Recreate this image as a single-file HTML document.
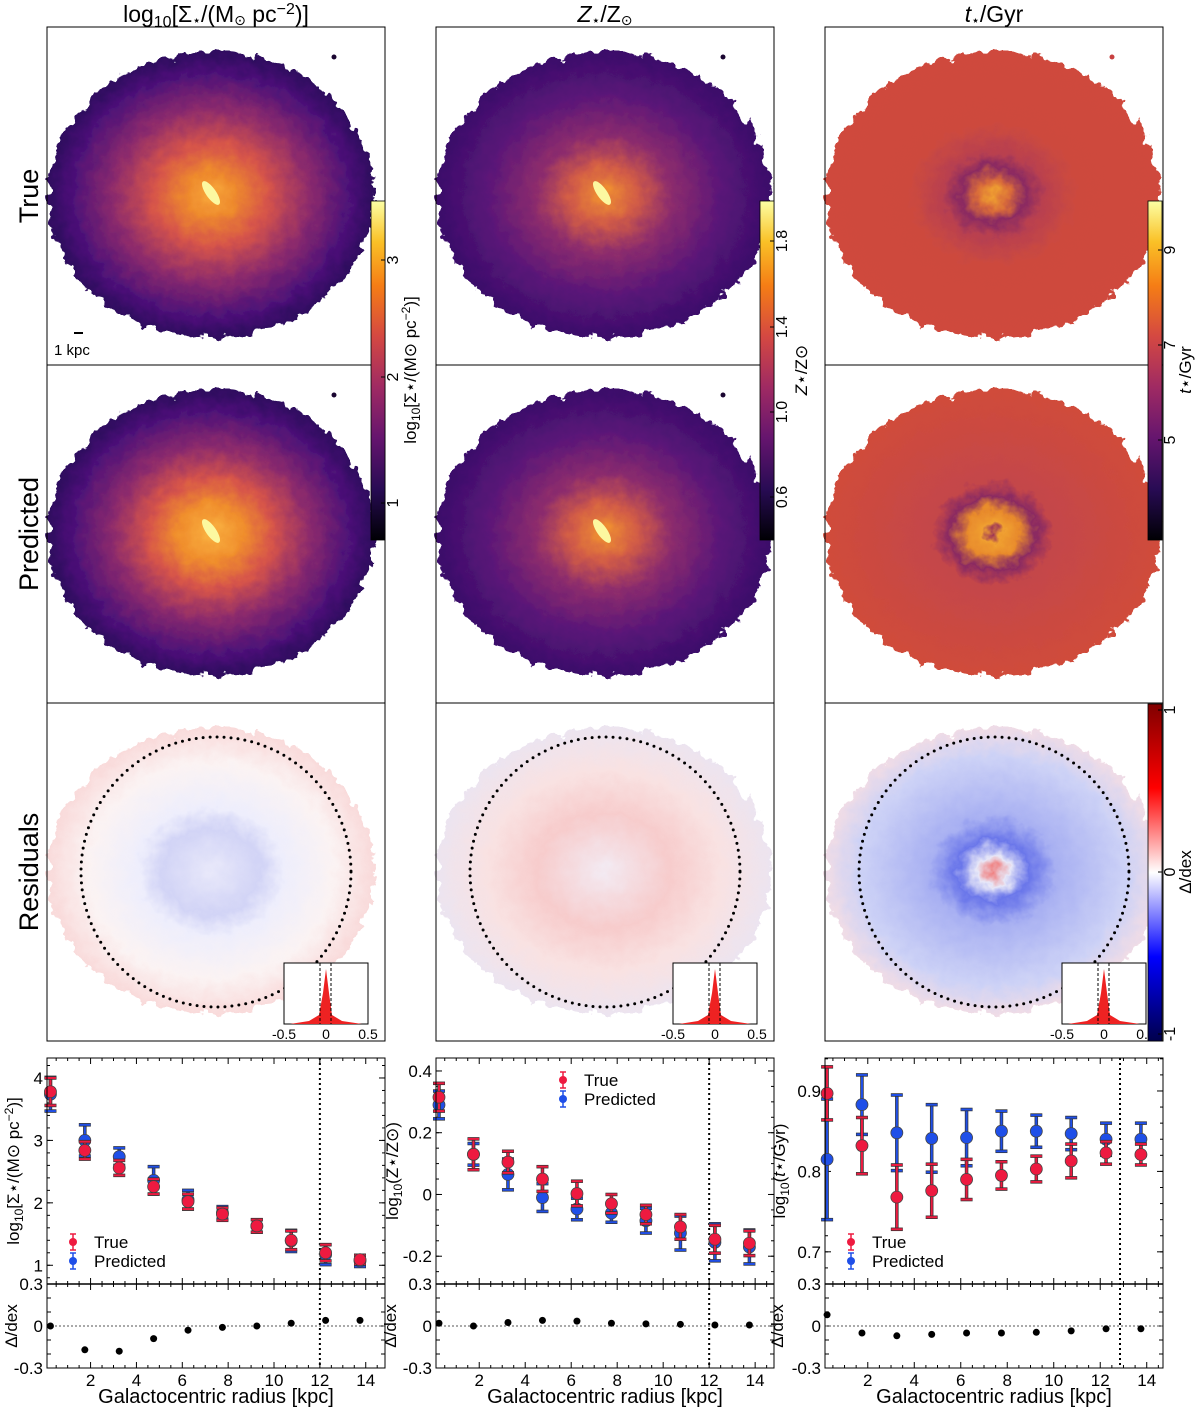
<!DOCTYPE html>
<html><head><meta charset="utf-8"><style>
html,body{margin:0;padding:0;background:#fff;}
svg{display:block;font-family:"Liberation Sans","DejaVu Sans",sans-serif;}
</style></head><body>
<svg id="fig" width="1200" height="1407" viewBox="0 0 1200 1407" xmlns="http://www.w3.org/2000/svg">
<defs>
<filter id="rough" x="-10%" y="-10%" width="120%" height="120%">
<feTurbulence type="fractalNoise" baseFrequency="0.09" numOctaves="3" seed="3" result="n"/>
<feDisplacementMap in="SourceGraphic" in2="n" scale="16" xChannelSelector="R" yChannelSelector="G"/>
</filter>
<radialGradient id="gS" cx="50%" cy="50%" r="50%">
<stop offset="0" stop-color="#f7a53a"/><stop offset="0.15" stop-color="#ee8a2c"/><stop offset="0.35" stop-color="#d6544a"/><stop offset="0.6" stop-color="#8d2b6c"/><stop offset="0.85" stop-color="#4c1178"/><stop offset="1" stop-color="#2d0b5e"/></radialGradient>
<radialGradient id="gSp" cx="50%" cy="50%" r="50%">
<stop offset="0" stop-color="#f9b040"/><stop offset="0.2" stop-color="#f08e2c"/><stop offset="0.38" stop-color="#d6544a"/><stop offset="0.6" stop-color="#8d2b6c"/><stop offset="0.85" stop-color="#4c1178"/><stop offset="1" stop-color="#2d0b5e"/></radialGradient>
<radialGradient id="gZ" cx="50%" cy="50%" r="50%">
<stop offset="0" stop-color="#f09030"/><stop offset="0.2" stop-color="#d25c46"/><stop offset="0.4" stop-color="#8e2d6c"/><stop offset="0.7" stop-color="#5a1678"/><stop offset="1" stop-color="#3a0d6a"/></radialGradient>
<radialGradient id="gT" cx="50%" cy="50%" r="50%">
<stop offset="0" stop-color="#f0a030"/><stop offset="0.1" stop-color="#d86a3a"/><stop offset="0.2" stop-color="#8a2a62"/><stop offset="0.3" stop-color="#b84050"/><stop offset="0.5" stop-color="#cd4a3e"/><stop offset="1" stop-color="#cf4a3c"/></radialGradient>
<radialGradient id="gTp" cx="50%" cy="50%" r="50%">
<stop offset="0" stop-color="#9a3058"/><stop offset="0.06" stop-color="#f0a030"/><stop offset="0.16" stop-color="#e88a2c"/><stop offset="0.26" stop-color="#8a2a62"/><stop offset="0.36" stop-color="#c4464a"/><stop offset="1" stop-color="#d04c3a"/></radialGradient>
<radialGradient id="gR1" cx="50%" cy="50%" r="50%">
<stop offset="0" stop-color="#e8e8fa"/><stop offset="0.3" stop-color="#d2d4f6"/><stop offset="0.45" stop-color="#eeeefc"/><stop offset="0.75" stop-color="#fbf3f3"/><stop offset="1" stop-color="#f9dada"/></radialGradient>
<radialGradient id="gR2" cx="50%" cy="50%" r="50%">
<stop offset="0" stop-color="#f3eaf2"/><stop offset="0.4" stop-color="#f7cccc"/><stop offset="0.7" stop-color="#f9e2e2"/><stop offset="1" stop-color="#ece4f0"/></radialGradient>
<radialGradient id="gR3" cx="50%" cy="50%" r="50%">
<stop offset="0" stop-color="#f08080"/><stop offset="0.1" stop-color="#e8e8f8"/><stop offset="0.22" stop-color="#6a76ea"/><stop offset="0.38" stop-color="#a8b0f2"/><stop offset="0.8" stop-color="#cdd2f6"/><stop offset="1" stop-color="#f0dce6"/></radialGradient>
<linearGradient id="cbInf" x1="0" y1="1" x2="0" y2="0">
<stop offset="0" stop-color="#000004"/><stop offset="0.15" stop-color="#280b54"/><stop offset="0.3" stop-color="#65156e"/><stop offset="0.45" stop-color="#9f2a63"/><stop offset="0.6" stop-color="#d44842"/><stop offset="0.75" stop-color="#f57d15"/><stop offset="0.88" stop-color="#fac127"/><stop offset="1" stop-color="#fcffa4"/></linearGradient>
<linearGradient id="cbSeis" x1="0" y1="1" x2="0" y2="0">
<stop offset="0" stop-color="#00004c"/><stop offset="0.25" stop-color="#0000ff"/><stop offset="0.5" stop-color="#ffffff"/><stop offset="0.75" stop-color="#ff0000"/><stop offset="1" stop-color="#800000"/></linearGradient>
</defs>
<g id="maps"></g>
<g id="charts"></g>
</svg>
<script>
// ---------- profile data ----------
const radii = [0.25,1.75,3.25,4.75,6.25,7.75,9.25,10.75,12.25,13.75];
const sigmaTrue = [3.78,2.84,2.56,2.26,2.02,1.82,1.63,1.40,1.20,1.09];
const sigmaTrueErr = [0.22,0.14,0.12,0.12,0.12,0.10,0.10,0.15,0.13,0.07];
const sigmaPred = [3.74,3.00,2.74,2.36,2.05,1.84,1.63,1.39,1.17,1.07];
const sigmaPredErr = [0.27,0.25,0.14,0.22,0.15,0.10,0.10,0.17,0.16,0.09];
const sigmaResid = [0.0,-0.17,-0.18,-0.09,-0.03,-0.01,0.0,0.02,0.04,0.04];
const zTrue = [0.315,0.13,0.105,0.05,0.003,-0.03,-0.065,-0.105,-0.145,-0.158];
const zTrueErr = [0.045,0.05,0.035,0.04,0.04,0.03,0.03,0.04,0.045,0.04];
const zPred = [0.29,0.13,0.065,-0.01,-0.047,-0.06,-0.085,-0.125,-0.155,-0.17];
const zPredErr = [0.045,0.035,0.05,0.045,0.035,0.03,0.04,0.055,0.06,0.055];
const zResid = [0.02,0.0,0.025,0.04,0.035,0.02,0.015,0.012,0.007,0.007];
const tTrue = [0.897,0.832,0.768,0.776,0.790,0.795,0.803,0.813,0.823,0.821];
const tTrueErr = [0.033,0.035,0.04,0.033,0.025,0.017,0.016,0.021,0.014,0.013];
const tPred = [0.815,0.883,0.848,0.841,0.842,0.850,0.850,0.847,0.840,0.840];
const tPredErr = [0.075,0.037,0.047,0.042,0.035,0.025,0.02,0.02,0.02,0.02];
const tResid = [0.08,-0.05,-0.07,-0.06,-0.05,-0.05,-0.045,-0.035,-0.02,-0.02];
const xTicks = [2,4,6,8,10,12,14];
const sigmaTicks = [1,2,3,4];
const zTicks = [-0.2,0,0.2,0.4];
const tTicks = [0.7,0.8,0.9];
const residTickLabels = ["0.3","0","-0.3"];

const NS="http://www.w3.org/2000/svg";
function E(tag,attrs,parent,text){const e=document.createElementNS(NS,tag);for(const k in attrs)e.setAttribute(k,attrs[k]);if(text!==undefined)e.textContent=text;(parent||document.getElementById('fig')).appendChild(e);return e;}

// ---------- maps ----------
const maps=document.getElementById('maps');
const colX=[47,436,825], rowY=[27,365,703], P=338;
const fills=[["gS","gSp","gR1"],["gZ","gZ","gR2"],["gT","gTp","gR3"]];
for(let c=0;c<3;c++){
  for(let r=0;r<3;r++){
    const g=E('g',{transform:`translate(${colX[c]},${rowY[r]})`},maps);
    
    
    E('rect',{x:0,y:0,width:P,height:P,fill:'#fff'},g);
    const cx=c==0?164:168, cy=168, rx=c==0?163:167, ry=143;
    const gal=E('ellipse',{cx,cy,rx,ry,fill:`url(#${fills[c][r]})`,filter:'url(#rough)'},g);
    
    
    if(r<2&&c<2){
      const bar=E('ellipse',{cx:cx-c*2,cy:cy-2,rx:14,ry:5,fill:'#fcf8a0',transform:`rotate(55 ${cx-c*2} ${cy-2})`},g);
      
      
      E('circle',{cx:287,cy:30,r:2.5,fill:'#1a0530'},g);
    }
    if(r==0&&c==2){E('circle',{cx:287,cy:30,r:2.5,fill:'#c84040'},g);}
    if(r==2){
      const circ=E('ellipse',{cx:169,cy:169,rx:135,ry:135,fill:'none',stroke:'#000','stroke-width':3,'stroke-dasharray':'0 7','stroke-linecap':'round'},g);
      
      
      const ins=E('g',{transform:`translate(237,260)`},g);
      
      
      E('rect',{x:0,y:0,width:84,height:61,fill:'#fff',stroke:'#000','stroke-width':1},ins);
      E('path',{d:'M6,61 L25,58 L35,52 L39,30 L42,6 L45,30 L48,52 L58,58 L78,61 Z',fill:'#ee2222'},ins);
      E('line',{x1:36,y1:0,x2:36,y2:61,stroke:'#000','stroke-dasharray':'3 2'},ins);
      E('line',{x1:47,y1:0,x2:47,y2:61,stroke:'#000','stroke-dasharray':'3 2'},ins);
      [["-0.5",0],["0",42],["0.5",84]].forEach(([t,x])=>E('text',{x:x,y:76,'font-size':14,'text-anchor':'middle'},ins,t));
    }
    E('rect',{x:0,y:0,width:P,height:P,fill:'none',stroke:'#000','stroke-width':1},g);
  }
  const tt=E('text',{x:colX[c]+169,y:22,'font-size':23,'text-anchor':'middle'},maps);
  
  
  if(c==0){
    tt.innerHTML='log<tspan dy="5" font-size="16">10</tspan><tspan dy="-5">[Σ</tspan><tspan font-size="14" dy="3">⋆</tspan><tspan dy="-3">/(M</tspan><tspan font-size="14" dy="3">⊙</tspan><tspan dy="-3"> pc</tspan><tspan dy="-8" font-size="16">−2</tspan><tspan dy="8">)]</tspan>';
  } else if(c==1){
    tt.innerHTML='<tspan font-style="italic">Z</tspan><tspan font-size="14" dy="3">⋆</tspan><tspan dy="-3">/Z</tspan><tspan font-size="14" dy="3">⊙</tspan>';
  } else {
    tt.innerHTML='<tspan font-style="italic">t</tspan><tspan font-size="14" dy="3">⋆</tspan><tspan dy="-3">/Gyr</tspan>';
  }
}
[["True",196],["Predicted",534],["Residuals",872]].forEach(([t,y])=>{
  const l=E('text',{x:38,y:y,'font-size':27,'text-anchor':'middle',transform:`rotate(-90 38 ${y})`},maps,t);
  
  
});
E('line',{x1:74,y1:333,x2:83,y2:333,stroke:'#000','stroke-width':2},maps);
E('text',{x:54,y:355,'font-size':15},maps,'1 kpc');

function cbar(x,y0,y1,grad,ticks,label,name){
  const g=E('g',{},maps);
  
  
  E('rect',{x:x,y:y0,width:14,height:y1-y0,fill:`url(#${grad})`,stroke:'#000','stroke-width':0.8},g);
  ticks.forEach(([t,y])=>{
    E('line',{x1:x+10,y1:y,x2:x+14,y2:y,stroke:'#000'},g);
    E('text',{x:x+27,y:y,'font-size':16,'text-anchor':'middle',transform:`rotate(-90 ${x+27} ${y})`},g,t);
  });
  const lx=x+label[1], ly=label[2];
  const lt=E('text',{x:lx,y:ly,'font-size':17,'text-anchor':'middle',transform:`rotate(-90 ${lx} ${ly})`},g);
  lt.innerHTML=label[0];
}
cbar(371,201,540,'cbInf',[["1",503],["2",377],["3",260]],['log<tspan dy="4" font-size="12">10</tspan><tspan dy="-4">[Σ⋆/(M⊙ pc</tspan><tspan dy="-6" font-size="12">−2</tspan><tspan dy="6">)]</tspan>',45,370],'colorbar-sigma');
cbar(760,201,540,'cbInf',[["0.6",497],["1.0",412],["1.4",327],["1.8",241]],['<tspan font-style="italic">Z</tspan>⋆/Z⊙',47,370],'colorbar-metallicity');
cbar(1148,201,540,'cbInf',[["5",440],["7",345],["9",250]],['<tspan font-style="italic">t</tspan>⋆/Gyr',43,370],'colorbar-age');
cbar(1148,704,1041,'cbSeis',[["1",710],["0",872],["-1",1034]],['Δ/dex',43,872],'colorbar-residual');

// ---------- profile charts ----------
const charts=document.getElementById('charts');
const TOP=1058, MID=1284, BOT=1368;
function chart(cfg){
  const g=E('g',{},charts);
  
  
  const L=cfg.left,R=cfg.right;
  const sx=v=>L+(v-cfg.xd[0])/(cfg.xd[1]-cfg.xd[0])*(R-L);
  const sy=v=>MID-(v-cfg.yd[0])/(cfg.yd[1]-cfg.yd[0])*(MID-TOP);
  const sr=v=>BOT-(v+0.3)/0.6*(BOT-MID);
  for(let v=Math.ceil(cfg.xd[0]*2)/2;v<=cfg.xd[1];v+=0.5){
    const maj=Math.abs(v%2)<1e-6, len=maj?6:3, x=sx(v);
    [TOP,MID].forEach(y=>E('line',{x1:x,y1:y,x2:x,y2:y+len,stroke:'#000'},g));
    [MID,BOT].forEach(y=>E('line',{x1:x,y1:y,x2:x,y2:y-len,stroke:'#000'},g));
  }
  xTicks.forEach(v=>E('text',{x:sx(v),y:BOT+18,'font-size':17,'text-anchor':'middle'},g,String(v)));
  cfg.ticks.forEach(v=>{const y=sy(v);E('line',{x1:L,y1:y,x2:L+6,y2:y,stroke:'#000'},g);E('line',{x1:R,y1:y,x2:R-6,y2:y,stroke:'#000'},g);
    E('text',{x:L-4,y:y+6,'font-size':17,'text-anchor':'end'},g,cfg.fmt(v));});
  for(let v=cfg.minorStart;v<cfg.yd[1];v+=cfg.minor){const y=sy(v);if(y>MID||y<TOP)continue;E('line',{x1:L,y1:y,x2:L+3,y2:y,stroke:'#000'},g);E('line',{x1:R,y1:y,x2:R-3,y2:y,stroke:'#000'},g);}
  [0.3,0,-0.3].forEach((v,i)=>{const y=sr(v);E('text',{x:L-4,y:y+6,'font-size':17,'text-anchor':'end'},g,residTickLabels[i]);});
  for(let v=-0.2;v<=0.21;v+=0.1){const y=sr(v);E('line',{x1:L,y1:y,x2:L+4,y2:y,stroke:'#000'},g);E('line',{x1:R,y1:y,x2:R-4,y2:y,stroke:'#000'},g);}
  E('line',{x1:L,y1:sr(0),x2:R,y2:sr(0),stroke:'#555','stroke-dasharray':'2 2'},g);
  const vx=sx(cfg.vline);
  E('line',{x1:vx,y1:TOP,x2:vx,y2:BOT,stroke:'#000','stroke-width':2,'stroke-dasharray':'2 3'},g);
  function series(vals,errs,col,nm){
    vals.forEach((v,i)=>{
      const x=sx(radii[i]),y=sy(v),y0=sy(v-errs[i]),y1=sy(v+errs[i]);
      const s=E('g',{},g);
      
      
      E('line',{x1:x,y1:y0,x2:x,y2:y1,stroke:'#333','stroke-width':3.5},s);
      E('line',{x1:x,y1:y0,x2:x,y2:y1,stroke:col,'stroke-width':2},s);
      [y0,y1].forEach(yy=>{E('line',{x1:x-6,y1:yy,x2:x+6,y2:yy,stroke:'#333','stroke-width':3.5},s);E('line',{x1:x-5.5,y1:yy,x2:x+5.5,y2:yy,stroke:col,'stroke-width':2},s);});
      E('circle',{cx:x,cy:y,r:6,fill:col,stroke:'#444','stroke-width':0.8},s);
    });
  }
  series(cfg.pred,cfg.predErr,'#1f4fe8','predicted');
  series(cfg.tru,cfg.truErr,'#ee1a40','true');
  cfg.res.forEach((v,i)=>{const c=E('circle',{cx:sx(radii[i]),cy:sr(v),r:3.5,fill:'#000'},g);
    
    });
  E('rect',{x:L,y:TOP,width:R-L,height:BOT-TOP,fill:'none',stroke:'#000','stroke-width':1},g);
  E('line',{x1:L,y1:MID,x2:R,y2:MID,stroke:'#000','stroke-width':1.5},g);
  const lg=E('g',{},g);
  
  
  [[cfg.leg[1],'#ee1a40','True'],[cfg.leg[1]+19,'#1f4fe8','Predicted']].forEach(([y,col,t])=>{
    const x=cfg.leg[0];
    E('line',{x1:x,y1:y-8,x2:x,y2:y+8,stroke:col,'stroke-width':1.5},lg);
    E('line',{x1:x-3,y1:y-8,x2:x+3,y2:y-8,stroke:col,'stroke-width':1.5},lg);
    E('line',{x1:x-3,y1:y+8,x2:x+3,y2:y+8,stroke:col,'stroke-width':1.5},lg);
    E('circle',{cx:x,cy:y,r:4,fill:col},lg);
    E('text',{x:x+21,y:y+6,'font-size':17},lg,t);
  });
  const ylx=cfg.left-cfg.yoff;
  const yl=E('text',{x:ylx,y:1171,'font-size':17,'text-anchor':'middle',transform:`rotate(-90 ${ylx} 1171)`},g);
  yl.innerHTML=cfg.ylab;
  
  const dlx=cfg.left-cfg.yoff-2;
  const dl=E('text',{x:dlx,y:1326,'font-size':17,'text-anchor':'middle',transform:`rotate(-90 ${dlx} 1326)`},g,'Δ/dex');
  
  const xl=E('text',{x:(L+R)/2,y:1403,'font-size':20,'text-anchor':'middle'},g,'Galactocentric radius [kpc]');
  
}
chart({name:'sigma-profile',left:47,right:385,xd:[0.1,14.84],yd:[0.70,4.32],ticks:sigmaTicks,fmt:v=>String(v),minor:0.2,minorStart:0.8,vline:12,yoff:28,
  tru:sigmaTrue,truErr:sigmaTrueErr,pred:sigmaPred,predErr:sigmaPredErr,res:sigmaResid,leg:[73,1242],
  ylab:'log<tspan dy="4" font-size="12">10</tspan><tspan dy="-4">[Σ⋆/(M⊙ pc</tspan><tspan dy="-6" font-size="12">−2</tspan><tspan dy="6">)]</tspan>'});
chart({name:'metallicity-profile',left:436,right:774,xd:[0.12,14.82],yd:[-0.29,0.442],ticks:zTicks,fmt:v=>v==0?'0':String(v),minor:0.05,minorStart:-0.25,vline:12,yoff:38,
  tru:zTrue,truErr:zTrueErr,pred:zPred,predErr:zPredErr,res:zResid,leg:[563,1080],
  ylab:'log<tspan dy="4" font-size="12">10</tspan><tspan dy="-4">(Z⋆/Z⊙)</tspan>'});
chart({name:'age-profile',left:825,right:1163,xd:[0.16,14.7],yd:[0.66,0.941],ticks:tTicks,fmt:v=>String(v),minor:0.02,minorStart:0.66,vline:12.85,yoff:40,
  tru:tTrue,truErr:tTrueErr,pred:tPred,predErr:tPredErr,res:tResid,leg:[851,1242],
  ylab:'log<tspan dy="4" font-size="12">10</tspan><tspan dy="-4">(</tspan><tspan font-style="italic">t</tspan><tspan>⋆/Gyr)</tspan>'});
</script>
</body></html>
